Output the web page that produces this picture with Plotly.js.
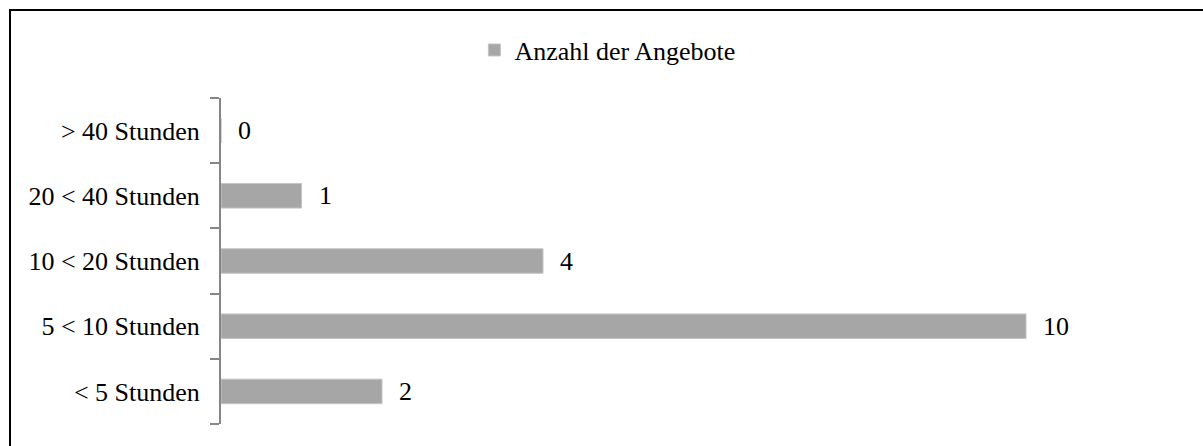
<!DOCTYPE html>
<html>
<head>
<meta charset="utf-8">
<script src="https://cdn.plot.ly/plotly-3.0.1.min.js"></script>
<style>
  html, body { margin: 0; padding: 0; background: #fff; overflow: hidden; }
  #frame { position: absolute; left: 9px; top: 9px; width: 1300px; height: 600px;
           border-left: 2px solid #000; border-top: 2px solid #000; }
  #chart { position: absolute; left: 0; top: 0; width: 1192px; height: 435px; }
</style>
</head>
<body>
<div id="frame"><div id="chart"></div></div>
<script>
const categories = ["< 5 Stunden", "5 < 10 Stunden", "10 < 20 Stunden", "20 < 40 Stunden", "> 40 Stunden"];
const values = [2, 10, 4, 1, 0];
const seriesName = "Anzahl der Angebote";

const fontFamily = "'Liberation Serif', 'Times New Roman', serif";

const trace = {
  type: "bar",
  orientation: "h",
  name: seriesName,
  x: values,
  y: categories,
  marker: { color: "#a6a6a6", line: { color: "#c4c4c4", width: 1 } },
  hoverinfo: "skip",
  showlegend: true
};

const annotations = values.map((v, i) => ({
  x: v, y: categories[i], xref: "x", yref: "y",
  text: String(v), showarrow: false,
  xanchor: "left", yanchor: "middle", xshift: 15,
  font: { family: fontFamily, size: 26, color: "#000" }
}));

const layout = {
  width: 1192, height: 435,
  margin: { l: 210, r: 16, t: 87, b: 22, pad: 0 },
  paper_bgcolor: "#fff", plot_bgcolor: "#fff",
  font: { family: fontFamily, size: 26, color: "#000" },
  bargap: 0.624,
  showlegend: true,
  legend: {
    orientation: "h", x: 0.400, xanchor: "center", y: 1.147, yanchor: "middle",
    font: { family: fontFamily, size: 26, color: "#000" },
    itemwidth: 30, bgcolor: "rgba(0,0,0,0)"
  },
  xaxis: {
    range: [0, 12], showgrid: false, zeroline: false, showline: false,
    showticklabels: false, ticks: "", fixedrange: true
  },
  yaxis: {
    type: "category", categoryorder: "array", categoryarray: categories,
    range: [-0.5, 4.5],
    showline: true, linecolor: "#868686", linewidth: 2,
    ticks: "outside", tickson: "boundaries", ticklen: 9, tickwidth: 2, tickcolor: "#868686",
    ticklabelstandoff: 14,
    showgrid: false, zeroline: false, fixedrange: true,
    tickfont: { family: fontFamily, size: 26, color: "#000" }
  },
  annotations: annotations
};

Plotly.newPlot("chart", [trace], layout, { displayModeBar: false, staticPlot: true });
</script>
</body>
</html>
